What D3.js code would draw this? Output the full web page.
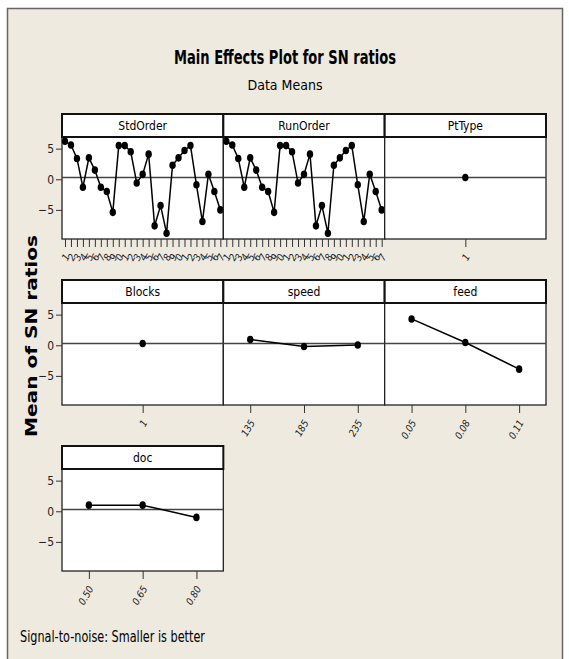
<!DOCTYPE html>
<html>
<head>
<meta charset="utf-8">
<script src="https://cdn.jsdelivr.net/npm/d3@7"></script>
<style>
  html, body { margin: 0; padding: 0; background: #fff; }
  svg { display: block; }
  .narrow { font-family: "Liberation Sans Narrow", "DejaVu Sans Condensed", "Arial Narrow", sans-serif; }
</style>
</head>
<body>
<div id="chart"></div>
<script>
// ------------------------------
// DONNEES
// ------------------------------
const orderLevels = ["1","2","3","4","5","6","7","8","9","10","11","12","13","14",
  "15","16","17","18","19","20","21","22","23","24","25","26","27"];
const stdOrderSN = [6.2, 5.6, 3.4, -1.3, 3.5, 1.5, -1.3, -2.0, -5.4, 5.5, 5.5, 4.5, -0.6, 0.8,
  4.1, -7.6, -4.3, -8.8, 2.3, 3.5, 4.7, 5.5, -0.9, -6.9, 0.8, -2.0, -5.0];
const runOrderSN = [6.2, 5.6, 3.4, -1.3, 3.5, 1.5, -1.3, -2.0, -5.4, 5.5, 5.5, 4.5, -0.6, 0.8,
  4.1, -7.6, -4.3, -8.8, 2.3, 3.5, 4.7, 5.5, -0.9, -6.9, 0.8, -2.0, -5.0];
const ptTypeLevels = ["1"];
const ptTypeSN = [0.3];
const blocksLevels = ["1"];
const blocksSN = [0.3];
const speedLevels = ["135", "185", "235"];
const speedSN = [0.95, -0.2, 0.05];
const feedLevels = ["0.05", "0.08", "0.11"];
const feedSN = [4.3, 0.45, -3.9];
const docLevels = ["0.50", "0.65", "0.80"];
const docSN = [1.0, 1.0, -1.0];
const grandMean = 0.3;
const yTicks = [-5, 0, 5];

// les etiquettes de l'ordre se chevauchent : seul le dernier chiffre reste lisible
const lastDigit = d => d.slice(-1);

const panels = [
  { name: "StdOrder", levels: orderLevels, values: stdOrderSN, fmt: lastDigit },
  { name: "RunOrder", levels: orderLevels, values: runOrderSN, fmt: lastDigit },
  { name: "PtType", levels: ptTypeLevels, values: ptTypeSN },
  { name: "Blocks", levels: blocksLevels, values: blocksSN },
  { name: "speed", levels: speedLevels, values: speedSN },
  { name: "feed", levels: feedLevels, values: feedSN },
  { name: "doc", levels: docLevels, values: docSN }
];

// ------------------------------
// MISE EN PAGE
// ------------------------------
const W = 569, H = 659;
const gridLeft = 62, gridRight = 546;
const colW = (gridRight - gridLeft) / 3;
const rowTop = [114, 280, 446];
const stripH = 23, plotH = 102;

const svg = d3.select("#chart").append("svg")
  .attr("width", W).attr("height", H);

// cadre beige
svg.append("rect")
  .attr("x", 7.5).attr("y", 8.5).attr("width", 555).attr("height", 670)
  .attr("fill", "#eeeae0").attr("stroke", "#666").attr("stroke-width", 1.5);

svg.append("text").attr("class", "narrow")
  .attr("x", 285).attr("y", 64).attr("text-anchor", "middle")
  .attr("font-size", 19).attr("font-weight", "bold")
  .attr("textLength", 222).attr("lengthAdjust", "spacingAndGlyphs")
  .text("Main Effects Plot for SN ratios");

svg.append("text").attr("class", "narrow")
  .attr("x", 285).attr("y", 90).attr("text-anchor", "middle")
  .attr("font-size", 14)
  .text("Data Means");

svg.append("text")
  .attr("transform", "translate(37,336) rotate(-90)")
  .attr("text-anchor", "middle")
  .attr("font-family", "'DejaVu Sans', Verdana, sans-serif")
  .attr("font-size", 15).attr("font-weight", "bold")
  .attr("textLength", 202).attr("lengthAdjust", "spacingAndGlyphs")
  .text("Mean of SN ratios");

svg.append("text").attr("class", "narrow")
  .attr("x", 20).attr("y", 642)
  .attr("font-size", 15)
  .attr("textLength", 185).attr("lengthAdjust", "spacingAndGlyphs")
  .text("Signal-to-noise: Smaller is better");

// ------------------------------
// PANNEAUX
// ------------------------------
panels.forEach((p, i) => {
  const col = i % 3, row = Math.floor(i / 3);
  const x0 = gridLeft + col * colW;
  const top = rowTop[row];
  const pTop = top + stripH, pBot = pTop + plotH;

  const x = d3.scalePoint().domain(p.levels).range([x0, x0 + colW]).padding(0.5);
  const y = d3.scaleLinear().domain([-9.75, 6.9]).range([pBot, pTop]);

  const g = svg.append("g");

  // zone de trace
  g.append("rect")
    .attr("x", x0).attr("y", pTop).attr("width", colW).attr("height", plotH)
    .attr("fill", "#fff").attr("stroke", "#222").attr("stroke-width", 1.3);

  // bandeau titre
  g.append("rect")
    .attr("x", x0).attr("y", top).attr("width", colW).attr("height", stripH)
    .attr("fill", "#fff").attr("stroke", "#111").attr("stroke-width", 2);
  g.append("text").attr("class", "narrow")
    .attr("x", x0 + colW / 2).attr("y", top + 16)
    .attr("text-anchor", "middle").attr("font-size", 12)
    .text(p.name);

  // ligne moyenne generale
  g.append("line")
    .attr("x1", x0).attr("x2", x0 + colW)
    .attr("y1", y(grandMean)).attr("y2", y(grandMean))
    .attr("stroke", "#444").attr("stroke-width", 1.5);

  // axe x
  const xAxis = d3.axisBottom(x).tickSize(8).tickPadding(3);
  if (p.fmt) xAxis.tickFormat(p.fmt);
  const ax = g.append("g").attr("transform", `translate(0,${pBot})`).call(xAxis);
  ax.select(".domain").remove();
  ax.selectAll(".tick line").attr("stroke", "#333");
  ax.selectAll(".tick text")
    .attr("class", "narrow")
    .attr("font-size", 10)
    .attr("font-style", "italic")
    .attr("fill", "#222")
    .attr("text-anchor", "end")
    .attr("dy", "0.3em")
    .attr("transform", "translate(2,16) rotate(-60)")
    .attr("y", 0).attr("x", 0);

  // axe y (premiere colonne)
  if (col === 0) {
    const yAxis = d3.axisLeft(y).tickValues(yTicks).tickSize(6).tickPadding(2);
    const ay = g.append("g").attr("transform", `translate(${x0},0)`).call(yAxis);
    ay.select(".domain").remove();
    ay.selectAll(".tick line").attr("stroke", "#333");
    ay.selectAll(".tick text").attr("class", "narrow").attr("font-size", 12).attr("fill", "#222");
  }

  // courbe et points
  const pts = p.levels.map((l, k) => [x(l), y(p.values[k])]);
  if (pts.length > 1) {
    g.append("path")
      .attr("d", d3.line()(pts))
      .attr("fill", "none").attr("stroke", "#000").attr("stroke-width", 1.5);
  }
  g.selectAll("ellipse.pt").data(pts).enter()
    .append("ellipse")
    .attr("cx", d => d[0]).attr("cy", d => d[1])
    .attr("rx", 3.2).attr("ry", 3.8)
    .attr("fill", "#000");
});
</script>
</body>
</html>
